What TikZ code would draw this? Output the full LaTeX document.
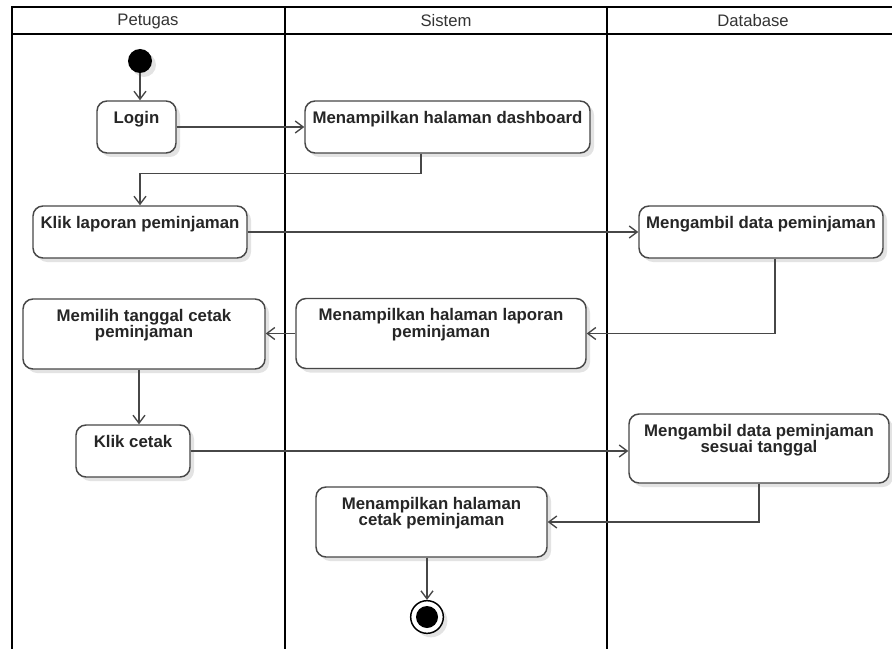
\documentclass[tikz,border=0pt]{standalone}
\usepackage{fontspec}
\setmainfont{Liberation Sans}
\usetikzlibrary{arrows.meta,calc,shadows}
\begin{document}
\begin{tikzpicture}[x=0.75pt,y=-0.75pt,
  sz/.style 2 args={minimum width=#1*0.75pt, minimum height=#2*0.75pt},
  act/.style={draw=black!72, line width=1.1pt, rounded corners=7.5pt, fill=white,
    inner sep=0pt,
    drop shadow={shadow xshift=3pt, shadow yshift=-3pt, fill=black!11, opacity=1}},
  acttext/.style={font=\bfseries\fontsize{12.6}{12.5}\selectfont, text=black!85,
    align=center, anchor=north, inner sep=0pt},
  flow/.style={draw=black!72, line width=1pt, -{Straight Barb[length=6pt,width=9pt]}},
  lane/.style={line width=1.6pt, draw=black},
  lanehead/.style={font=\fontsize{12.5}{12.5}\selectfont, text=black!80, inner sep=0pt},
  startnode/.style={circle, fill=black, minimum size=18pt, inner sep=0pt,
    drop shadow={shadow xshift=3pt, shadow yshift=-3pt, fill=black!11, opacity=1}},
  endnode/.style={circle, draw=black, line width=1.1pt, fill=white, minimum size=24.5pt,
    inner sep=0pt,
    drop shadow={shadow xshift=3pt, shadow yshift=-3pt, fill=black!11, opacity=1}},
]
\useasboundingbox (0,0) rectangle (892,649);

% swimlanes
\draw[lane] (12,649) -- (12,7) -- (892,7);
\draw[lane] (12,34) -- (892,34);
\draw[lane] (285,7) -- (285,649);
\draw[lane] (607,7) -- (607,649);
\node[lanehead] (hpetugas) at (148,21) {Petugas};
\node[lanehead] (hsistem) at (446,21) {Sistem};
\node[lanehead] (hdatabase) at (753,21) {Database};

% start / end
\node[startnode] (init) at (140,61) {};
\node[endnode] (final) at (427,617) {};
\node[circle, fill=black, minimum size=16.5pt, inner sep=0pt] (finaldot) at (final) {};

% activities
\node[act, sz={79}{52}] (login) at (136.5,127) {};
\node[acttext] (logint) at ($(login.north)+(0,10.5)$) {Login};

\node[act, sz={285}{52}] (dash) at (447.5,127) {};
\node[acttext] (dasht) at ($(dash.north)+(0,10.5)$) {Menampilkan halaman dashboard};

\node[act, sz={214}{52}] (klap) at (140,232) {};
\node[acttext] (klapt) at ($(klap.north)+(0,10.5)$) {Klik laporan peminjaman};

\node[act, sz={244}{52}] (ambil) at (761,232) {};
\node[acttext] (ambilt) at ($(ambil.north)+(0,10.5)$) {Mengambil data peminjaman};

\node[act, sz={290}{70}] (lap) at (441,333.5) {};
\node[acttext] (lapt) at ($(lap.north)+(0,10.5)$) {Menampilkan halaman laporan\\peminjaman};

\node[act, sz={242}{70}] (memilih) at (144,334) {};
\node[acttext] (memiliht) at ($(memilih.north)+(0,10.5)$) {Memilih tanggal cetak\\peminjaman};

\node[act, sz={114}{52}] (cetak) at (133,451) {};
\node[acttext] (cetakt) at ($(cetak.north)+(0,10.5)$) {Klik cetak};

\node[act, sz={260}{69}] (sesuai) at (759,448.5) {};
\node[acttext] (sesuait) at ($(sesuai.north)+(0,10.5)$) {Mengambil data peminjaman\\sesuai tanggal};

\node[act, sz={231}{70}] (cetakp) at (431.5,522) {};
\node[acttext] (cetakpt) at ($(cetakp.north)+(0,10.5)$) {Menampilkan halaman\\cetak peminjaman};

% flows
\draw[flow] (init.south) -- (init |- login.north);
\draw[flow] (login.east) -- (login.east -| dash.west);
\coordinate (dashout) at ($(dash.south)+(-26.5,0)$);
\draw[flow] (dashout) -- ++(0,20) -| (klap.north);
\draw[flow] (klap.east) -- (klap.east -| ambil.west);
\coordinate (ambilout) at ($(ambil.south)+(14,0)$);
\draw[flow] (ambilout) |- (lap.east);
\draw[flow] (lap.west) -- (lap.west -| memilih.east);
\coordinate (memilihout) at ($(memilih.south)+(-5,0)$);
\draw[flow] (memilihout) -- (memilihout |- cetak.north);
\draw[flow] (cetak.east) -- (cetak.east -| sesuai.west);
\draw[flow] (sesuai.south) |- (cetakp.east);
\draw[flow] (final |- cetakp.south) -- (final.north);
\end{tikzpicture}
\end{document}
